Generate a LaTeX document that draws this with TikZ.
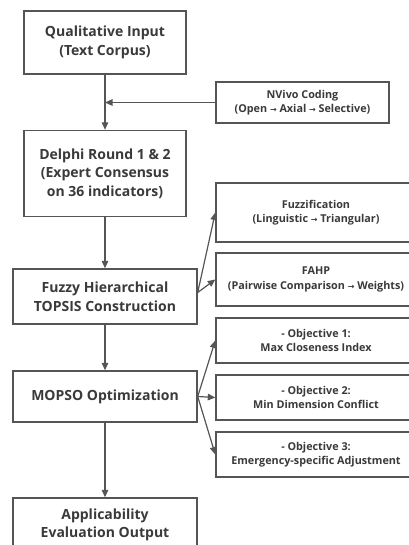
\documentclass[tikz,border=0pt]{standalone}
\usepackage{fontspec}
\setmainfont{Open Sans}
\newfontfamily\arrowfont{DejaVu Sans}
\usetikzlibrary{arrows.meta}
\definecolor{linec}{HTML}{555555}
\definecolor{textc}{HTML}{3A3A3A}
\newcommand{\rarr}{\ {\arrowfont\fontsize{8}{8}\selectfont →}\ }
\tikzset{
  mainbox/.style={draw=linec, line width=1.4pt, fill=white, align=center, inner sep=0pt,
    font=\fontsize{14}{18.5}\selectfont\bfseries, text=textc},
  sidebox/.style={draw=linec, line width=1.4pt, fill=white, align=center, inner sep=0pt,
    font=\fontsize{10.8}{14.5}\selectfont\bfseries, text=textc},
  conn/.style={draw=linec, line width=1.2pt, -{Triangle[length=7.5pt,width=6.5pt]}},
  plain/.style={draw=linec, line width=1.2pt}
}
\begin{document}
\begin{tikzpicture}[x=1pt,y=-1pt]
\useasboundingbox[fill=white] (0,0) rectangle (408,545);
\node[mainbox, minimum width=162pt, minimum height=63pt] (q) at (105,42.5) {Qualitative Input\\(Text Corpus)};
\node[mainbox, minimum width=162pt, minimum height=86pt] (d) at (105,173.5) {Delphi Round 1 \& 2\\(Expert Consensus\\on 36 indicators)};
\node[mainbox, minimum width=184pt, minimum height=55pt] (f) at (105,296.5) {Fuzzy Hierarchical\\TOPSIS Construction};
\node[mainbox, minimum width=184pt, minimum height=51pt] (m) at (105,396.5) {MOPSO Optimization};
\node[mainbox, minimum width=184pt, minimum height=54pt] (a) at (105,525) {Applicability\\Evaluation Output};

\node[sidebox, minimum width=173pt, minimum height=41pt] (n) at (302.5,102.5) {NVivo Coding\\(Open\rarr Axial\rarr Selective)};
\node[sidebox, minimum width=200pt, minimum height=59pt] (fz) at (316,212.5) {Fuzzification\\(Linguistic\rarr Triangular)};
\node[sidebox, minimum width=200pt, minimum height=53pt] (fa) at (316,279.5) {FAHP\\(Pairwise Comparison\rarr Weights)};
\node[sidebox, minimum width=200pt, minimum height=45pt] (o1) at (316,340.5) {- Objective 1:\\Max Closeness Index};
\node[sidebox, minimum width=200pt, minimum height=45pt] (o2) at (316,397.5) {- Objective 2:\\Min Dimension Conflict};
\node[sidebox, minimum width=200pt, minimum height=45pt] (o3) at (316,454.5) {- Objective 3:\\Emergency-specific Adjustment};

\draw[conn] (q.south) -- (d.north);
\coordinate (j) at (q.south |- n.west);
\draw[conn] (n.west) -- (j);
\draw[conn] (d.south) -- (f.north);
\coordinate (fe) at ([yshift=4pt]f.east);
\draw[conn] (fe) -- (fz.west);
\draw[conn] (fe) -- (fa.west);
\draw[conn] (f.south) -- (m.north);
\draw[conn] (m.south) -- (a.north);
\draw[conn] (m.east) -- (o1.west);
\draw[conn] (m.east) -- (o2.west);
\draw[conn] (m.east) -- (o3.west);
\end{tikzpicture}
\end{document}
